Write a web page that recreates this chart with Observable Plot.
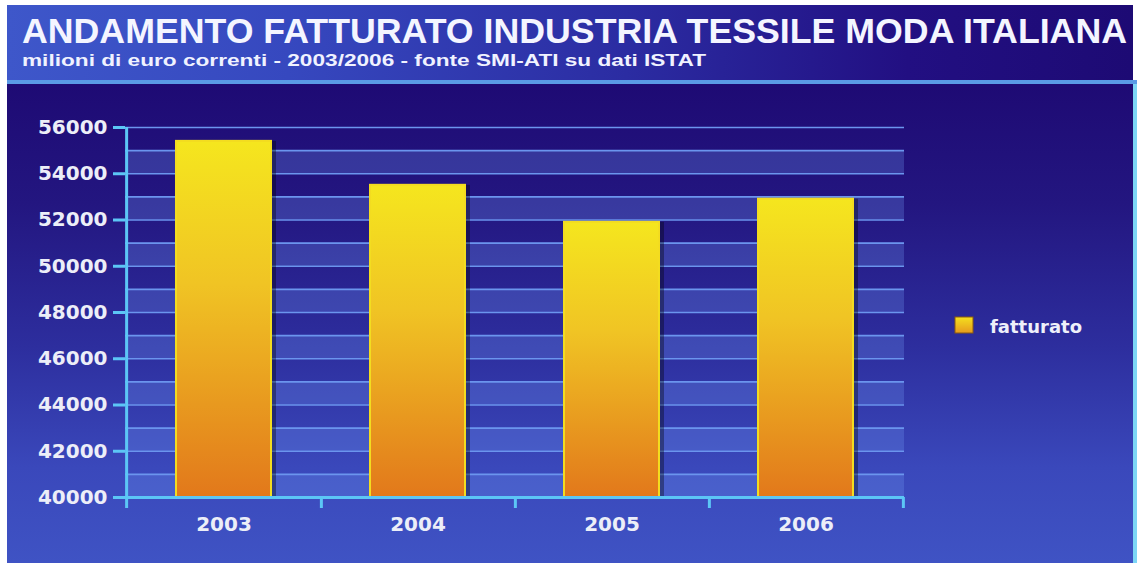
<!DOCTYPE html>
<html><head><meta charset="utf-8">
<script src="https://cdn.jsdelivr.net/npm/d3@7"></script>
<script src="https://cdn.jsdelivr.net/npm/@observablehq/plot@0.6"></script>
<style>
body{margin:0;background:#fff;width:1139px;height:567px;overflow:hidden;position:relative;font-family:"DejaVu Sans",sans-serif;}
#head{position:absolute;left:7px;top:5px;width:1126px;height:76px;background:linear-gradient(90deg,#3e57ca 0%,#3648bf 25%,#2b2ca2 55%,#220f82 80%,#1d0a74 100%);}
#sep{position:absolute;left:7px;top:80px;width:1130px;height:4px;background:#5a9ae6;}
#panel{position:absolute;left:7px;top:84px;width:1126px;height:479px;background:linear-gradient(180deg,#1e0a74 0%,#231680 25%,#2d2e9e 55%,#3a48bb 80%,#3f53c4 100%);border-right:4px solid #7dd6f6;}
#chart{position:absolute;left:7px;top:85px;}
#titles{position:absolute;left:0;top:0;}
#legend{position:absolute;left:940px;top:300px;}
</style>
</head><body>
<div id="head"></div>
<div id="sep"></div>
<div id="panel"></div>
<svg id="titles" width="1139" height="80">
  <text x="22" y="43" font-family="Liberation Sans, Arial, sans-serif" font-weight="bold" font-size="35" fill="#f4f5ff" textLength="1105" lengthAdjust="spacingAndGlyphs">ANDAMENTO FATTURATO INDUSTRIA TESSILE MODA ITALIANA</text>
  <text x="22" y="66" font-family="Liberation Sans, Arial, sans-serif" font-weight="bold" font-size="16" fill="#f0f2ff" textLength="684" lengthAdjust="spacingAndGlyphs">milioni di euro correnti - 2003/2006 - fonte SMI-ATI su dati ISTAT</text>
</svg>
<div id="chart"></div>
<svg id="legend" width="180" height="50">
  <defs><linearGradient id="legGrad" x1="0" y1="0" x2="0" y2="1"><stop offset="0" stop-color="#f4e01e"/><stop offset="1" stop-color="#e69a1e"/></linearGradient></defs>
  <rect x="15" y="17" width="18" height="16" fill="url(#legGrad)" stroke="#8a5a10" stroke-width="1"/>
  <text x="50" y="33" font-family="DejaVu Sans, sans-serif" font-weight="bold" font-size="18" fill="#eef0fa">fatturato</text>
</svg>
<script>
const years = ["2003", "2004", "2005", "2006"];
const fatturato = [55400, 53500, 51900, 52900];
const yTicks = [40000, 42000, 44000, 46000, 48000, 50000, 52000, 54000, 56000];
const gridValues = [40000, 41000, 42000, 43000, 44000, 45000, 46000, 47000, 48000, 49000, 50000, 51000, 52000, 53000, 54000, 55000, 56000];
const bandStarts = [40000, 42000, 44000, 46000, 48000, 50000, 52000, 54000];
const bandSize = 1000;

const data = years.map((year, i) => ({year, value: fatturato[i]}));

const W = 1126, H = 478, ML = 118, MR = 229, MT = 42, MB = 66;
const step = (W - ML - MR) / years.length;
const axisColor = "#5cc6f6";
const textColor = "#eceef8";

const chart = Plot.plot({
  width: W, height: H,
  marginLeft: ML, marginRight: MR, marginTop: MT, marginBottom: MB,
  style: {background: "transparent", fontFamily: "DejaVu Sans, sans-serif", fontWeight: "bold", overflow: "visible"},
  x: {domain: years, paddingInner: 0.51, paddingOuter: 0.255, axis: null, label: null},
  y: {domain: [40000, 56000], axis: null, label: null},
  marks: [
    Plot.rect(bandStarts, {y1: d => d, y2: d => d + bandSize, fill: "#7096f2", fillOpacity: 0.28}),
    Plot.ruleY(gridValues, {y: d => d, stroke: "#6b95ee", strokeWidth: 1.6}),
    Plot.barY(data, {x: "year", y1: 40000, y2: "value", fill: "#000", fillOpacity: 0.35, dx: 5}),
    Plot.barY(data, {x: "year", y1: 40000, y2: "value", fill: "url(#barGrad)", stroke: "#f3dc20", strokeWidth: 2}),
    Plot.ruleY([40000], {y: d => d, stroke: axisColor, strokeWidth: 3}),
    Plot.ruleX([years[0]], {x: d => d, dx: -step / 2, y1: 56000, y2: 40000, insetBottom: -11, stroke: axisColor, strokeWidth: 3}),
    Plot.ruleX(years, {x: d => d, dx: step / 2, y1: 40000, y2: 40000, insetBottom: -11, stroke: axisColor, strokeWidth: 3}),
    Plot.axisY(yTicks, {label: null, tickSize: 12, tickPadding: 6, stroke: axisColor, strokeWidth: 3, fill: textColor, fontSize: 20, fontWeight: "bold", tickFormat: d => String(d)}),
    Plot.axisX({label: null, tickSize: 0, tickPadding: 19, fontSize: 20, fontWeight: "bold", fill: textColor})
  ]
});

const defs = d3.select(chart).insert("defs", ":first-child");
const grad = defs.append("linearGradient").attr("id", "barGrad").attr("x1", 0).attr("y1", 0).attr("x2", 0).attr("y2", 1);
grad.append("stop").attr("offset", 0).attr("stop-color", "#f5e61e");
grad.append("stop").attr("offset", 0.4).attr("stop-color", "#f0c424");
grad.append("stop").attr("offset", 1).attr("stop-color", "#e2781b");

document.getElementById("chart").appendChild(chart);
</script>
</body></html>
